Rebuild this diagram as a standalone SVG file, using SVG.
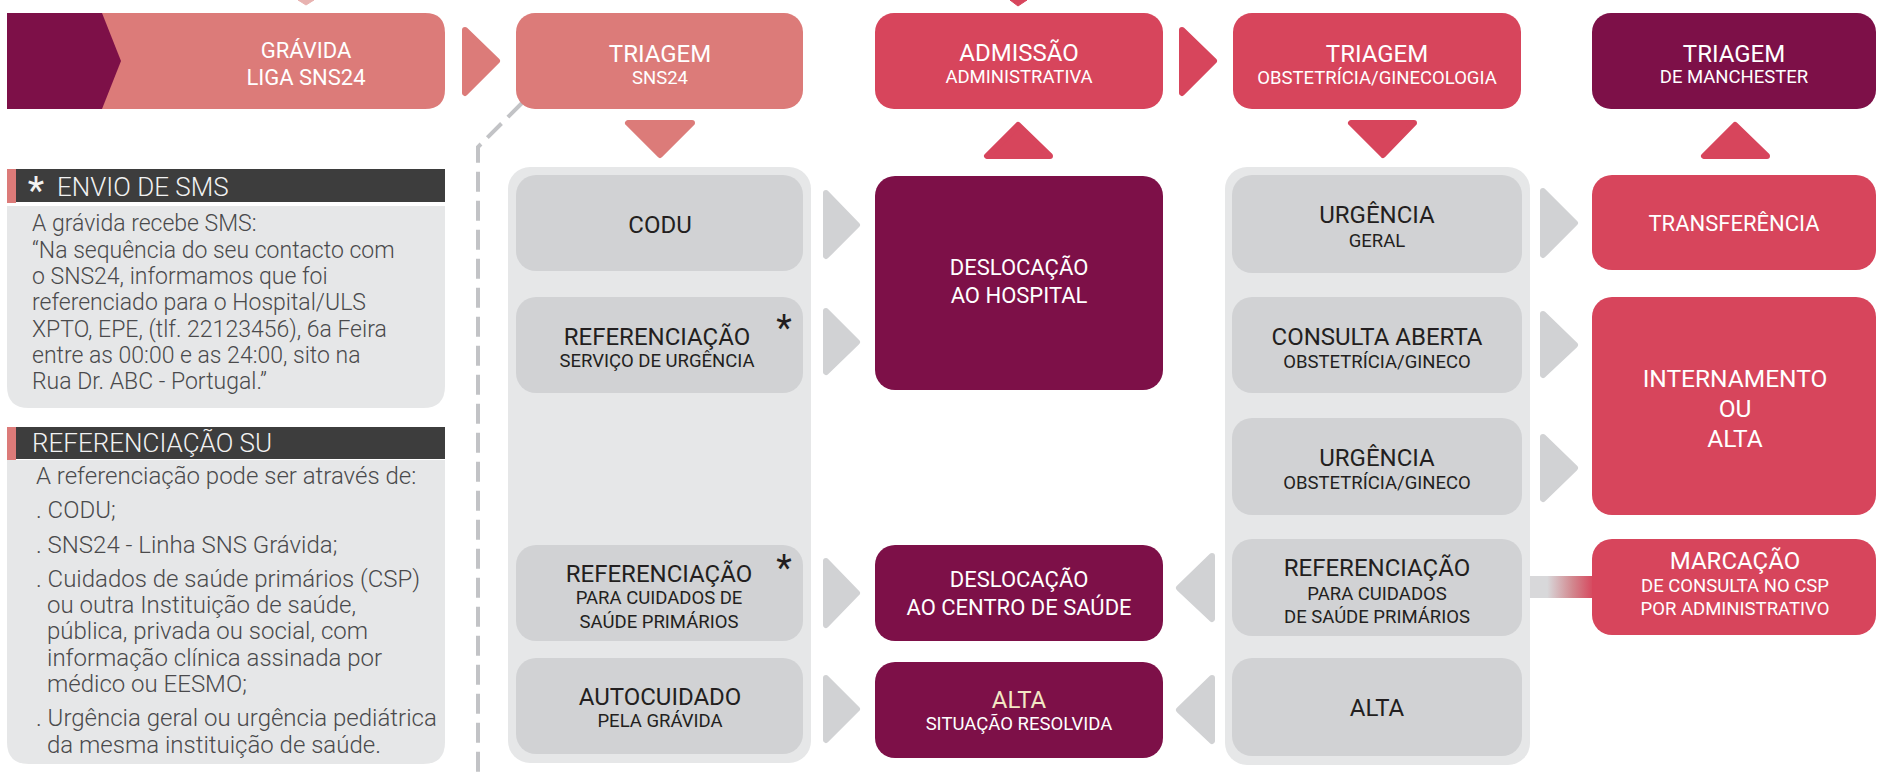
<svg xmlns="http://www.w3.org/2000/svg" width="1877" height="779" viewBox="0 0 1877 779">
<defs>
<style>
.pk{fill:#dc7b79}
.rd{fill:#d7455c}
.dk{fill:#7d1048}
.cont{fill:#e6e7e8}
.gbox{fill:#d1d2d4}
.arr{stroke-width:6;stroke-linejoin:round}
.garr{fill:#d1d2d4;stroke:#d1d2d4}
.parr{fill:#dc7b79;stroke:#dc7b79}
.rarr{fill:#d7455c;stroke:#d7455c}
.hdr{fill:#3d3d3d}
.panel{fill:#e6e7e8}
text{font-family:Roboto,"Liberation Sans",sans-serif}
.t1{font-size:24px;text-anchor:middle}
.t2{font-size:18.5px;text-anchor:middle}
.w{fill:#ffffff}
.d{fill:#231f20}
.cr{fill:#f3e7c4}
.ht{font-size:26px;font-weight:300;fill:#f2f2f2}
.bt{font-size:23px;font-weight:300;fill:#4a4a4c}
.bt2{font-size:24px;font-weight:300;fill:#4a4a4c}
.ast{font-size:36px;text-anchor:middle}
</style>
<linearGradient id="gr" x1="0" y1="0" x2="1" y2="0">
<stop offset="0" stop-color="#d8d8da"/>
<stop offset="0.35" stop-color="#d8d8da"/>
<stop offset="0.7" stop-color="#d2888f"/>
<stop offset="1" stop-color="#d7455c"/>
</linearGradient>
</defs>

<!-- connectors -->
<g id="connectors">
<polygon class="parr" points="298,0 314,0 306,5" style="fill:#e8b2b0;stroke:#e8b2b0"/>
<polygon class="rarr" points="1010,0 1027,0 1018,6"/>
<path d="M522 103 L478 147 L478 779" fill="none" stroke="#c2c3c6" stroke-width="4" stroke-dasharray="20 9"/>
<polygon class="arr parr" points="465,30 497,61 465,93"/>
<polygon class="arr rarr" points="1182,30 1214,61 1182,93"/>
<polygon class="arr parr" points="628,123 692,123 660,155"/>
<polygon class="arr rarr" points="987,156 1050,156 1018,125"/>
<polygon class="arr rarr" points="1351,123 1414,123 1383,155"/>
<polygon class="arr rarr" points="1704,156 1767,156 1735,125"/>
<polygon class="arr garr" points="826,193 857,225 826,256"/>
<polygon class="arr garr" points="826,311 857,342 826,372"/>
<polygon class="arr garr" points="826,561 857,593 826,625"/>
<polygon class="arr garr" points="826,678 857,709 826,740"/>
<polygon class="arr garr" points="1212,556 1179,588 1212,619"/>
<polygon class="arr garr" points="1212,678 1179,710 1212,741"/>
<polygon class="arr garr" points="1543,191 1575,223 1543,255"/>
<polygon class="arr garr" points="1543,314 1575,345 1543,375"/>
<polygon class="arr garr" points="1543,437 1575,468 1543,499"/>
<rect x="1522" y="576" width="72" height="22" fill="url(#gr)"/>
</g>

<!-- left panels -->
<g id="panel-sms">
<rect class="hdr" x="7" y="169" width="438" height="33"/>
<rect class="pk" x="7" y="169" width="9" height="34"/>
<text class="ast" x="36" y="204" style="fill:#f2f2f2;font-size:38px">*</text>
<text class="ht" x="57" y="196">ENVIO DE SMS</text>
<path class="panel" d="M7 206 H445 V386 Q445 408 423 408 H29 Q7 408 7 386 Z"/>
<text class="bt" x="32" y="231">A grávida recebe SMS:</text>
<text class="bt" x="32" y="258">“Na sequência do seu contacto com</text>
<text class="bt" x="32" y="284">o SNS24, informamos que foi</text>
<text class="bt" x="32" y="310">referenciado para o Hospital/ULS</text>
<text class="bt" x="32" y="337">XPTO, EPE, (tlf. 22123456), 6a Feira</text>
<text class="bt" x="32" y="363">entre as 00:00 e as 24:00, sito na</text>
<text class="bt" x="32" y="389">Rua Dr. ABC - Portugal.”</text>
</g>

<g id="panel-ref">
<rect class="hdr" x="7" y="427" width="438" height="32"/>
<rect class="pk" x="7" y="427" width="9" height="33"/>
<text class="ht" x="32" y="452">REFERENCIAÇÃO SU</text>
<path class="panel" d="M7 460 H445 V742 Q445 764 423 764 H29 Q7 764 7 742 Z"/>
<text class="bt2" x="36" y="484">A referenciação pode ser através de:</text>
<text class="bt2" x="36" y="518">. CODU;</text>
<text class="bt2" x="36" y="553">. SNS24 - Linha SNS Grávida;</text>
<text class="bt2" x="36" y="587">. Cuidados de saúde primários (CSP)</text>
<text class="bt2" x="47" y="613">ou outra Instituição de saúde,</text>
<text class="bt2" x="47" y="639">pública, privada ou social, com</text>
<text class="bt2" x="47" y="666">informação clínica assinada por</text>
<text class="bt2" x="47" y="692">médico ou EESMO;</text>
<text class="bt2" x="36" y="726">. Urgência geral ou urgência pediátrica</text>
<text class="bt2" x="47" y="753">da mesma instituição de saúde.</text>
</g>

<!-- top row -->
<g id="gravida">
<path class="pk" d="M7 13 H425 Q445 13 445 33 V89 Q445 109 425 109 H7 Z"/>
<polygon class="dk" points="7,13 102,13 121,61 102,109 7,109"/>
<text class="t1 w" x="306" y="58" style="font-size:22px">GRÁVIDA</text>
<text class="t1 w" x="306" y="85" style="font-size:22px">LIGA SNS24</text>
</g>
<g id="triagem-sns24">
<rect class="pk" x="516" y="13" width="287" height="96" rx="19"/>
<text class="t1 w" x="660" y="62">TRIAGEM</text>
<text class="t2 w" x="660" y="84">SNS24</text>
</g>
<g id="admissao">
<rect class="rd" x="875" y="13" width="288" height="96" rx="19"/>
<text class="t1 w" x="1019" y="61">ADMISSÃO</text>
<text class="t2 w" x="1019" y="83">ADMINISTRATIVA</text>
</g>
<g id="triagem-obst">
<rect class="rd" x="1233" y="13" width="288" height="96" rx="19"/>
<text class="t1 w" x="1377" y="62">TRIAGEM</text>
<text class="t2 w" x="1377" y="84">OBSTETRÍCIA/GINECOLOGIA</text>
</g>
<g id="triagem-manchester">
<rect class="dk" x="1592" y="13" width="284" height="96" rx="19"/>
<text class="t1 w" x="1734" y="62">TRIAGEM</text>
<text class="t2 w" x="1734" y="83">DE MANCHESTER</text>
</g>

<!-- column 1 -->
<g id="col1">
<rect class="cont" x="508" y="167" width="303" height="596" rx="22"/>
</g>
<g id="codu">
<rect class="gbox" x="516" y="175" width="287" height="96" rx="20"/>
<text class="t1 d" x="660" y="233">CODU</text>
</g>
<g id="ref-su">
<rect class="gbox" x="516" y="297" width="287" height="96" rx="20"/>
<text class="t1 d" x="657" y="345">REFERENCIAÇÃO</text>
<text class="t2 d" x="657" y="367">SERVIÇO DE URGÊNCIA</text>
<text class="ast d" x="784" y="340">*</text>
</g>
<g id="ref-csp1">
<rect class="gbox" x="516" y="545" width="287" height="96" rx="20"/>
<text class="t1 d" x="659" y="582">REFERENCIAÇÃO</text>
<text class="t2 d" x="659" y="604">PARA CUIDADOS DE</text>
<text class="t2 d" x="659" y="628">SAÚDE PRIMÁRIOS</text>
<text class="ast d" x="784" y="580">*</text>
</g>
<g id="autocuidado">
<rect class="gbox" x="516" y="658" width="287" height="96" rx="20"/>
<text class="t1 d" x="660" y="705">AUTOCUIDADO</text>
<text class="t2 d" x="660" y="727">PELA GRÁVIDA</text>
</g>

<!-- column 2 -->
<g id="desloc-hospital">
<rect class="dk" x="875" y="176" width="288" height="214" rx="20"/>
<text class="t1 w" x="1019" y="275" style="font-size:22px">DESLOCAÇÃO</text>
<text class="t1 w" x="1019" y="303" style="font-size:22px">AO HOSPITAL</text>
</g>
<g id="desloc-cs">
<rect class="dk" x="875" y="545" width="288" height="96" rx="20"/>
<text class="t1 w" x="1019" y="587" style="font-size:22px">DESLOCAÇÃO</text>
<text class="t1 w" x="1019" y="615" style="font-size:22px">AO CENTRO DE SAÚDE</text>
</g>
<g id="alta-resolvida">
<rect class="dk" x="875" y="662" width="288" height="96" rx="20"/>
<text class="t1 cr" x="1019" y="708">ALTA</text>
<text class="t2 w" x="1019" y="730">SITUAÇÃO RESOLVIDA</text>
</g>

<!-- column 3 -->
<g id="col3">
<rect class="cont" x="1225" y="167" width="305" height="598" rx="22"/>
</g>
<g id="urg-geral">
<rect class="gbox" x="1232" y="175" width="290" height="98" rx="20"/>
<text class="t1 d" x="1377" y="223">URGÊNCIA</text>
<text class="t2 d" x="1377" y="247">GERAL</text>
</g>
<g id="consulta">
<rect class="gbox" x="1232" y="297" width="290" height="96" rx="20"/>
<text class="t1 d" x="1377" y="345">CONSULTA ABERTA</text>
<text class="t2 d" x="1377" y="368">OBSTETRÍCIA/GINECO</text>
</g>
<g id="urg-obst">
<rect class="gbox" x="1232" y="418" width="290" height="97" rx="20"/>
<text class="t1 d" x="1377" y="466">URGÊNCIA</text>
<text class="t2 d" x="1377" y="489">OBSTETRÍCIA/GINECO</text>
</g>
<g id="ref-csp3">
<rect class="gbox" x="1232" y="539" width="290" height="97" rx="20"/>
<text class="t1 d" x="1377" y="576">REFERENCIAÇÃO</text>
<text class="t2 d" x="1377" y="600">PARA CUIDADOS</text>
<text class="t2 d" x="1377" y="623">DE SAÚDE PRIMÁRIOS</text>
</g>
<g id="alta3">
<rect class="gbox" x="1232" y="658" width="290" height="98" rx="20"/>
<text class="t1 d" x="1377" y="716">ALTA</text>
</g>

<!-- column 4 -->
<g id="transferencia">
<rect class="rd" x="1592" y="175" width="284" height="95" rx="20"/>
<text class="t1 w" x="1734" y="231" style="font-size:22px">TRANSFERÊNCIA</text>
</g>
<g id="internamento">
<rect class="rd" x="1592" y="297" width="284" height="218" rx="20"/>
<text class="t1 w" x="1735" y="387" style="font-size:24.5px">INTERNAMENTO</text>
<text class="t1 w" x="1735" y="417" style="font-size:24.5px">OU</text>
<text class="t1 w" x="1735" y="447" style="font-size:24.5px">ALTA</text>
</g>
<g id="marcacao">
<rect class="rd" x="1592" y="539" width="284" height="96" rx="20"/>
<text class="t1 w" x="1735" y="569">MARCAÇÃO</text>
<text class="t2 w" x="1735" y="592">DE CONSULTA NO CSP</text>
<text class="t2 w" x="1735" y="615">POR ADMINISTRATIVO</text>
</g>
</svg>
